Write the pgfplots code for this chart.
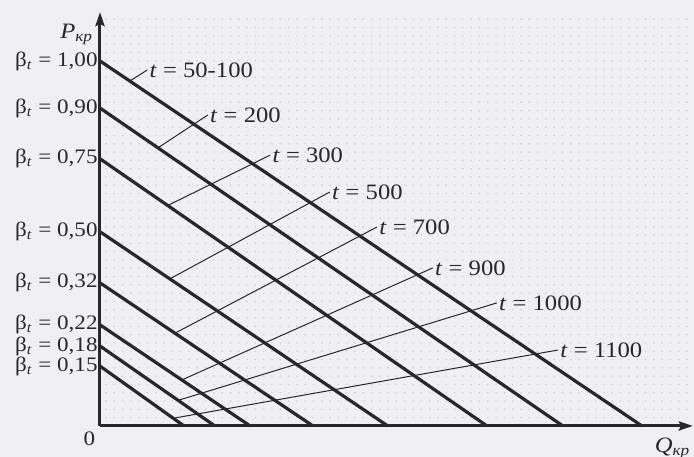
\documentclass[border=0pt]{standalone}
\usepackage{fontspec}
\setmainfont{Liberation Serif}[FakeStretch=1.12]
\usepackage{pgfplots}
\pgfplotsset{compat=1.18}
\usetikzlibrary{arrows.meta,backgrounds}
\definecolor{paper}{RGB}{240,240,243}
\definecolor{ink}{RGB}{40,40,40}
\newcommand{\bt}[1]{β\textsubscript{\textit{t}} = #1}
\newcommand{\tl}[1]{\textit{t} = #1}
\begin{document}
\fontsize{10.3}{12}\selectfont
\begin{tikzpicture}[tlab/.style={anchor=west, inner sep=1pt, text=ink, font=\fontsize{11}{13}\selectfont}]
\begin{axis}[
  x=271pt, y=182.5pt,
  xmin=0, xmax=1.094, ymin=0, ymax=1.134,
  axis lines=left,
  axis on top,
  clip=false,
  axis line style={ink, line width=1.5pt, -{Stealth[length=7pt,width=4.5pt,inset=1pt]}},
  major tick length=0pt,
  xtick=\empty,
  ytick={0.164,0.219,0.277,0.392,0.532,0.732,0.871,1},
  yticklabels={{\bt{0,15}},{\bt{0,18}},{\bt{0,22}},{\bt{0,32}},{\bt{0,50}},{\bt{0,75}},{\bt{0,90}},{\bt{1,00}}},
  yticklabel style={font=\fontsize{10.3}{12}\selectfont, text=ink, anchor=east, inner sep=1pt},
]
% lines P = beta_t at Q = 0, falling to zero
\addplot[ink, line width=1.6pt] coordinates {(0,1.000) (1.000,0)};
\addplot[ink, line width=1.6pt] coordinates {(0,0.871) (0.854,0)};
\addplot[ink, line width=1.6pt] coordinates {(0,0.732) (0.714,0)};
\addplot[ink, line width=1.6pt] coordinates {(0,0.532) (0.531,0)};
\addplot[ink, line width=1.6pt] coordinates {(0,0.392) (0.393,0)};
\addplot[ink, line width=1.6pt] coordinates {(0,0.277) (0.277,0)};
\addplot[ink, line width=1.6pt] coordinates {(0,0.219) (0.212,0)};
\addplot[ink, line width=1.6pt] coordinates {(0,0.164) (0.155,0)};
% t leaders
\addplot[ink, line width=0.5pt] coordinates {(0.055,0.945) (0.087,0.975)};
\addplot[ink, line width=0.5pt] coordinates {(0.107,0.762) (0.199,0.852)};
\addplot[ink, line width=0.5pt] coordinates {(0.125,0.604) (0.314,0.742)};
\addplot[ink, line width=0.5pt] coordinates {(0.129,0.403) (0.424,0.641)};
\addplot[ink, line width=0.5pt] coordinates {(0.138,0.254) (0.511,0.545)};
\addplot[ink, line width=0.5pt] coordinates {(0.151,0.126) (0.614,0.433)};
\addplot[ink, line width=0.5pt] coordinates {(0.144,0.070) (0.732,0.337)};
\addplot[ink, line width=0.5pt] coordinates {(0.135,0.021) (0.845,0.208)};
\node[tlab] at (axis cs:0.087,0.975) {\tl{50-100}};
\node[tlab] at (axis cs:0.199,0.852) {\tl{200}};
\node[tlab] at (axis cs:0.314,0.742) {\tl{300}};
\node[tlab] at (axis cs:0.424,0.641) {\tl{500}};
\node[tlab] at (axis cs:0.511,0.545) {\tl{700}};
\node[tlab] at (axis cs:0.614,0.433) {\tl{900}};
\node[tlab] at (axis cs:0.732,0.337) {\tl{1000}};
\node[tlab] at (axis cs:0.845,0.208) {\tl{1100}};
\node[text=ink, font=\fontsize{11}{13}\selectfont] at (axis cs:-0.043,1.072) {\textit{P}\textsubscript{\textit{кр}}};
\node[anchor=east, text=ink, inner sep=0pt, font=\fontsize{11}{13}\selectfont] at (axis cs:1.090,-0.062) {\textit{Q}\textsubscript{\textit{кр}}};
\node[anchor=north east, text=ink, inner sep=0pt] at (axis cs:-0.008,-0.014) {0};
\coordinate (o) at (axis cs:0,0);
\coordinate (bl) at (axis cs:-0.1845,-0.0849);
\coordinate (tr) at (axis cs:1.096,1.167);
\end{axis}
\begin{pgfonlayer}{background}
\fill[paper] (bl) rectangle (tr);
\foreach \k in {1,...,49}
  \draw[gray!40, line width=0.8pt, line cap=round, dash pattern=on 0pt off 4.15pt]
    ([xshift=3pt,yshift=\k*4.15pt]o) -- ++(292pt,0);
\end{pgfonlayer}
\pgfresetboundingbox
\useasboundingbox (bl) rectangle (tr);
\end{tikzpicture}
\end{document}
